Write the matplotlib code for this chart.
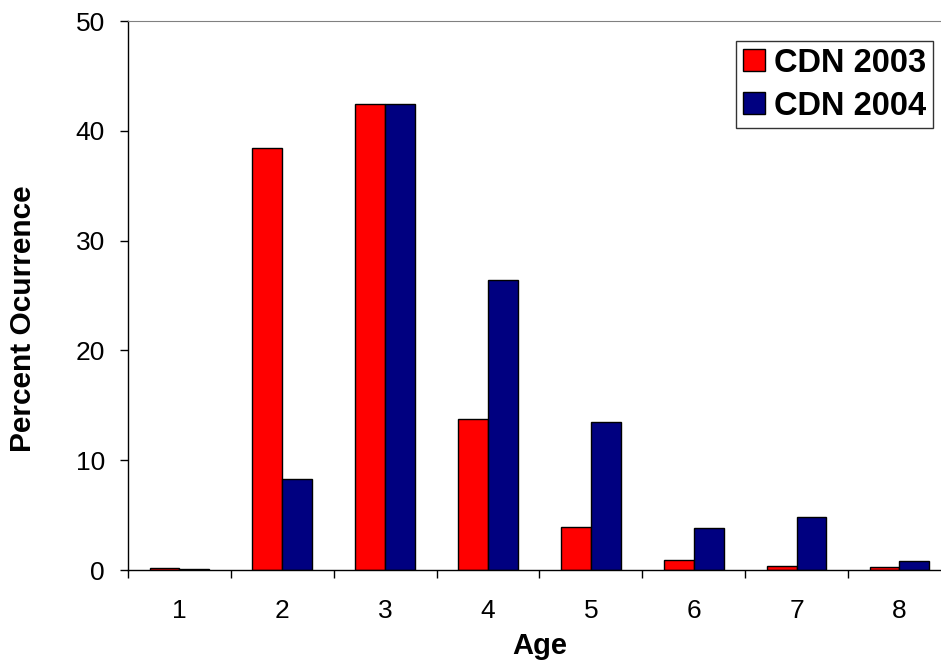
import numpy as np
import matplotlib.pyplot as plt
from matplotlib.patches import Patch

plt.rcParams['font.family'] = ['Liberation Sans', 'DejaVu Sans']

ages = ['1', '2', '3', '4', '5', '6', '7', '8']
cdn_2003 = [0.2, 38.45, 42.4, 13.75, 3.95, 0.88, 0.33, 0.24]
cdn_2004 = [0.1, 8.3, 42.4, 26.4, 13.5, 3.85, 4.85, 0.85]

W, H = 941, 665
fig = plt.figure(figsize=(W / 100, H / 100), dpi=100)
# axes run a little past the right edge of the figure
ax = fig.add_axes([128 / W, 95 / H, 822.8 / W, 549 / H])

x = np.arange(1, len(ages) + 1)
bw = 0.29
ax.bar(x - bw / 2, cdn_2003, bw, color='#ff0000', edgecolor='black', linewidth=1.0)
ax.bar(x + bw / 2, cdn_2004, bw, color='#000080', edgecolor='black', linewidth=1.0)

ax.set_xlim(0.5, len(ages) + 0.5)
ax.set_ylim(0, 50)
ax.set_yticks([0, 10, 20, 30, 40, 50])

# boundary ticks between groups, labels centred on each group
ax.set_xticks(np.arange(0.5, len(ages) + 1, 1))
ax.set_xticklabels([])
ax.set_xticks(x, minor=True)
ax.set_xticklabels(ages, minor=True)
ax.tick_params(axis='x', which='major', direction='out', length=6, width=1, color='black')
ax.tick_params(axis='x', which='minor', length=0, pad=21, labelsize=19)
ax.tick_params(axis='y', direction='out', length=6, width=1, color='black', pad=10.5, labelsize=19)

ax.spines['top'].set_color('#808080')
ax.spines['right'].set_visible(False)
ax.spines['left'].set_linewidth(1)
ax.spines['bottom'].set_linewidth(1)

ax.set_xlabel('Age', fontsize=21, fontweight='bold', labelpad=6)
fig.text(23 / W, 1 - 318.5 / H, 'Percent Ocurrence', rotation=90, ha='center', va='center',
         fontsize=21.5, fontweight='bold')

handles = [Patch(facecolor='#ff0000', edgecolor='black', linewidth=1.0, label='CDN 2003'),
           Patch(facecolor='#000080', edgecolor='black', linewidth=1.0, label='CDN 2004')]
leg = fig.legend(handles=handles, loc='upper right', bbox_to_anchor=(933 / W, 1 - 41 / H),
                 bbox_transform=fig.transFigure, borderaxespad=0, fancybox=False,
                 prop={'size': 23.5, 'weight': 'bold'}, handlelength=0.68, handleheight=0.68,
                 handletextpad=0.28, labelspacing=0.37, borderpad=0.2)
leg.get_frame().set_edgecolor('black')
leg.get_frame().set_linewidth(1.0)

fig.savefig('out.png', dpi=100)
